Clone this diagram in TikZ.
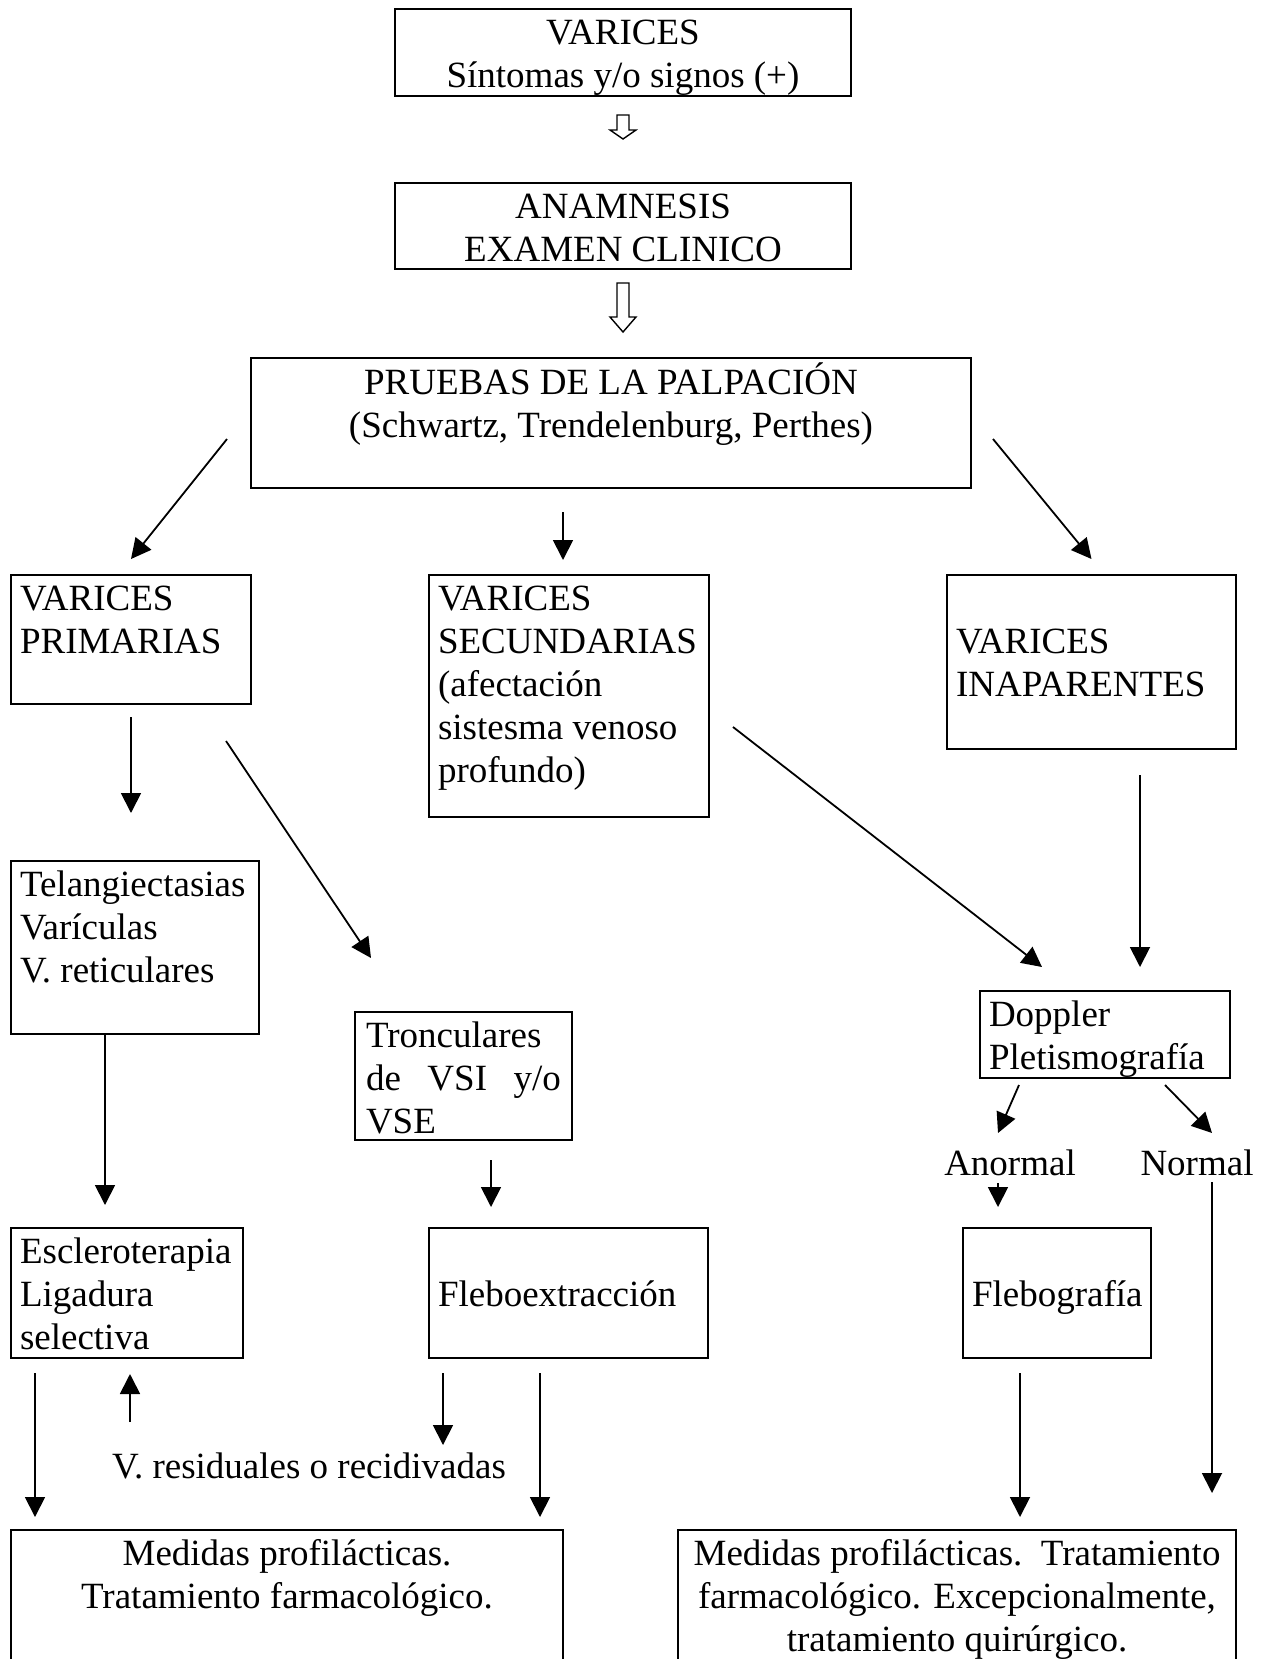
\documentclass[tikz,border=0pt]{standalone}
\usepackage{fontspec}
\setmainfont{Liberation Serif}
\usetikzlibrary{arrows.meta, calc}

% text block of a box: width, height, lines (top aligned)
\newcommand{\contenido}[3]{\parbox[c][#2][t]{#1}{\strut#3}}

\begin{document}
\begin{tikzpicture}[x=0.5pt, y=-0.5pt,
    every node/.style={font=\fontsize{18.5}{21.5}\selectfont},
    caja/.style={draw, line width=1.1pt, inner xsep=4.5pt, inner ysep=2.5pt, outer sep=0pt, anchor=north west},
    flecha/.style={line width=0.9pt, -{Triangle[length=10pt, width=10pt]}},
    hueca/.style={line width=0.7pt, line join=miter}]

        \useasboundingbox (0,0) rectangle (1268,1659);

        % Top boxes
        \node[caja] (varices) at (395,9) {\contenido{219pt}{38.5pt}{\centering VARICES\\Síntomas y/o signos (+)}};
        \node[caja] (anamnesis) at (395,183) {\contenido{219pt}{38pt}{\centering ANAMNESIS\\EXAMEN CLINICO}};
        \node[caja] (pruebas) at (251,358) {\contenido{351pt}{60pt}{\centering PRUEBAS DE LA PALPACIÓN\\(Schwartz, Trendelenburg, Perthes)}};

        % Hollow arrows
        \foreach \ya/\yb/\yc in {115/130/139, 283/317/332} {
            \draw[hueca] (617,\ya) -- (629,\ya) -- (629,\yb) -- (636,\yb) -- (623,\yc) -- (610,\yb) -- (617,\yb) -- cycle;
        }

        % Types of varices
        \node[caja] (primarias) at (11,575) {\contenido{111pt}{59.5pt}{\raggedright VARICES\\PRIMARIAS}};
        \node[caja] (secundarias) at (429,575) {\contenido{131pt}{116pt}{\raggedright VARICES\\SECUNDARIAS\\(afectación\\sistesma venoso\\profundo)}};
        \node[caja] (inaparentes) at (947,575) {\contenido{135.5pt}{82pt}{\raggedright\mbox{}\\VARICES\\INAPARENTES}};

        % Second level
        \node[caja] (telang) at (11,861) {\contenido{115pt}{81.5pt}{\raggedright Telangiectasias\\Varículas\\V. reticulares}};
        \node[caja, inner xsep=5.5pt] (tronculares) at (355,1012) {\contenido{97.5pt}{59pt}{\raggedright Tronculares\\\makebox[\linewidth][s]{de VSI y/o}\\VSE}};
        \node[caja] (doppler) at (980,991) {\contenido{116pt}{38.5pt}{\raggedright Doppler\\Pletismografía}};
        \node[anchor=base] (anormal) at (1010,1175) {Anormal};
        \node[anchor=base] (normal) at (1197,1175) {Normal};

        % Treatments
        \node[caja] (esclero) at (11,1228) {\contenido{107pt}{60pt}{\raggedright Escleroterapia\\Ligadura\\selectiva}};
        \node[caja] (fleboext) at (429,1228) {\contenido{130.5pt}{60pt}{\raggedright\mbox{}\\Fleboextracción}};
        \node[caja] (flebog) at (963,1228) {\contenido{85pt}{60pt}{\raggedright\mbox{}\\Flebografía}};
        \node[anchor=base] (residuales) at (309,1478) {V. residuales o recidivadas};

        % Bottom boxes
        \node[caja] (medidas1) at (11,1530) {\contenido{267pt}{66pt}{\centering Medidas profilácticas.\\Tratamiento farmacológico.}};
        \node[caja] (medidas2) at (678,1530) {\contenido{270pt}{66pt}{\centering Medidas profilácticas.~~Tratamiento\\farmacológico. Excepcionalmente,\\tratamiento quirúrgico.}};

        % Arrows
        \draw[flecha] ($(pruebas.west)+(-24,16)$) -- ($(primarias.north)+(0,-16)$);
        \draw[flecha] ($(secundarias.north)+(-6,-63)$) -- ($(secundarias.north)+(-6,-15)$);
        \draw[flecha] ($(pruebas.east)+(22,16)$) -- ($(inaparentes.north)+(0,-16)$);
        \draw[flecha] ($(primarias.south)+(0,13)$) -- ($(telang.north)+(-4,-48)$);
        \draw[flecha] ($(primarias.south east)+(-25,37)$) -- ($(tronculares.north)+(-92.5,-54)$);
        \draw[flecha] ($(secundarias.east)+(24,31)$) -- ($(doppler.north)+(-63,-24)$);
        \draw[flecha] ($(inaparentes.south)+(48.5,26)$) -- ($(doppler.north)+(35,-24)$);
        \draw[flecha] ($(telang.south)+(-30,1)$) -- ($(esclero.north)+(-22,-23)$);
        \draw[flecha] ($(tronculares.south)+(27.5,20)$) -- ($(fleboext.north)+(-77.5,-21)$);
        \draw[flecha] ($(doppler.south west)+(39,7)$) -- ($(anormal.base)+(-12,-42)$);
        \draw[flecha] ($(doppler.south east)+(-65,7)$) -- ($(normal.base)+(15,-42)$);
        \draw[flecha] ($(anormal.base)+(-12,8)$) -- ($(flebog.north)+(-59,-21)$);
        \draw[flecha] ($(normal.base)+(15,7)$) -- ($(normal.base)+(15,318)$);
        \draw[flecha] ($(esclero.south west)+(24,15)$) -- ($(medidas1.north west)+(24,-13)$);
        \draw[flecha] ($(esclero.south)+(3,64)$) -- ($(esclero.south)+(3,16)$);
        \draw[flecha] ($(fleboext.south west)+(14,15)$) -- ($(residuales.base)+(134,-33)$);
        \draw[flecha] ($(fleboext.south)+(-28.5,15)$) -- ($(medidas1.north east)+(-23,-13)$);
        \draw[flecha] ($(flebog.south)+(-37,15)$) -- ($(medidas2.north)+(63,-13)$);

    \end{tikzpicture}
\end{document}
